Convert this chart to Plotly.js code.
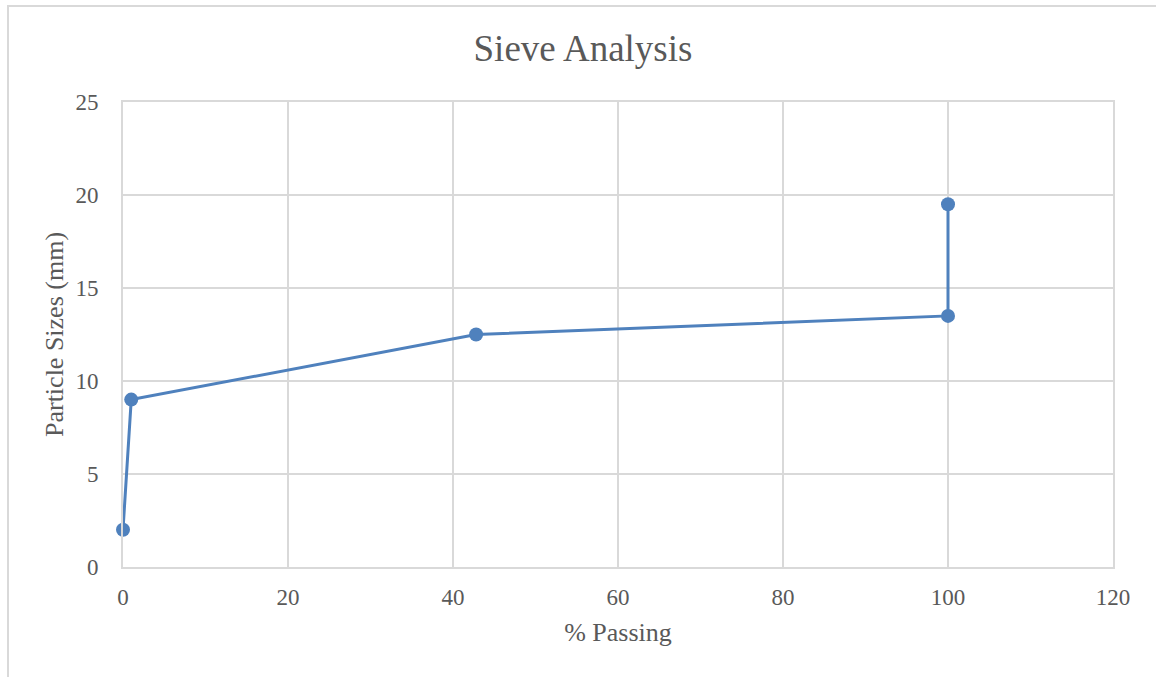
<!DOCTYPE html>
<html>
<head>
<meta charset="utf-8">
<script src="https://cdn.plot.ly/plotly-3.0.1.min.js"></script>
<style>
  html, body { margin: 0; padding: 0; background: #ffffff; }
  #wrap { position: relative; width: 1156px; height: 677px; overflow: hidden; }
  #frame { position: absolute; left: 7px; top: 5px; width: 1200px; height: 700px;
           border-left: 2px solid #d9d9d9; border-top: 2px solid #d9d9d9; box-sizing: border-box;
           pointer-events: none; }
  #chart { position: absolute; left: 0; top: 0; width: 1156px; height: 677px; }
</style>
</head>
<body>
<div id="wrap">
  <div id="chart"></div>
  <div id="frame"></div>
</div>
<script>
// Sieve results: cumulative % passing against particle size
const percentPassing = [0, 1, 42.8, 100, 100];
const particleSizeMm = [2, 9, 12.5, 13.5, 19.5];

const xTicks = [0, 20, 40, 60, 80, 100, 120];
const yTicks = [0, 5, 10, 15, 20, 25];

const textColor = '#595959';
const gridColor = '#d9d9d9';
const seriesColor = '#4f81bd';
const serif = '"Liberation Serif", "Times New Roman", serif';

const trace = {
  x: percentPassing,
  y: particleSizeMm,
  type: 'scatter',
  mode: 'lines+markers',
  line: { color: seriesColor, width: 3 },
  marker: { color: seriesColor, size: 14 },
  cliponaxis: false,
  hoverinfo: 'x+y'
};

const layout = {
  width: 1156,
  height: 677,
  paper_bgcolor: 'rgba(0,0,0,0)',
  plot_bgcolor: '#ffffff',
  margin: { l: 123, r: 43, t: 102, b: 110 },
  showlegend: false,
  font: { family: serif, color: textColor, size: 23 },
  title: {
    text: 'Sieve Analysis',
    font: { family: serif, color: textColor, size: 37 },
    x: 583 / 1156, xanchor: 'center', xref: 'container',
    y: 1 - 48 / 677, yref: 'container', yanchor: 'middle'
  },
  xaxis: {
    range: [0, 120],
    tickvals: xTicks,
    ticktext: xTicks.map(String),
    showgrid: true, gridcolor: gridColor, gridwidth: 2,
    showline: true, linecolor: gridColor, linewidth: 2, mirror: true,
    zeroline: false,
    ticks: 'outside', ticklen: 8, tickcolor: 'rgba(0,0,0,0)',
    tickfont: { family: serif, color: textColor, size: 23 },
    title: { text: '% Passing', font: { family: serif, color: textColor, size: 26 }, standoff: 14 }
  },
  yaxis: {
    range: [0, 25],
    tickvals: yTicks,
    ticktext: yTicks.map(String),
    showgrid: true, gridcolor: gridColor, gridwidth: 2,
    showline: true, linecolor: gridColor, linewidth: 2, mirror: true,
    zeroline: false,
    ticks: 'outside', ticklen: 18, tickcolor: 'rgba(0,0,0,0)',
    tickfont: { family: serif, color: textColor, size: 23 },
    title: { text: 'Particle Sizes (mm)', font: { family: serif, color: textColor, size: 26 }, standoff: 4 }
  }
};

Plotly.newPlot('chart', [trace], layout, { displayModeBar: false, staticPlot: true });
</script>
</body>
</html>
